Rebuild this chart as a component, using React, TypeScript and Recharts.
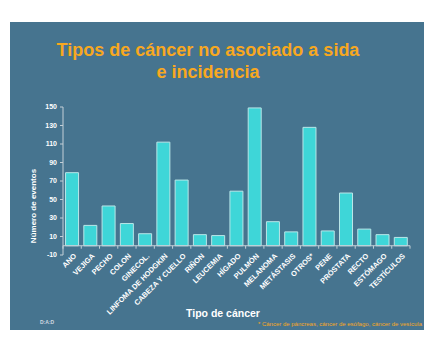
import { BarChart, Bar, XAxis, YAxis, ReferenceLine } from 'recharts';

const categories = [
  'ANO', 'VEJIGA', 'PECHO', 'COLON', 'GINECOL.', 'LINFOMA DE HODGKIN', 'CABEZA Y CUELLO',
  'RIÑON', 'LEUCEMIA', 'HÍGADO', 'PULMÓN', 'MELANOMA', 'METÁSTASIS', 'OTROS*', 'PENE',
  'PRÓSTATA', 'RECTO', 'ESTÓMAGO', 'TESTÍCULOS',
];
const eventos = [79, 22, 43, 24, 13, 112, 71, 12, 11, 59, 149, 26, 15, 128, 16, 57, 18, 12, 9];
const yTicks = [-10, 10, 30, 50, 70, 90, 110, 130, 150];

const data = categories.map((name, i) => ({ name, eventos: eventos[i] }));

const W = 434;
const H = 355;
const MARGIN = { top: 107, right: 24, bottom: 0, left: 13 };
const Y_W = 50;
const X_H = 100;
const PLOT_W = W - MARGIN.left - MARGIN.right - Y_W;
const BAND = PLOT_W / categories.length;

const FONT = '"Liberation Sans", Arial, sans-serif';
const BG = '#46748f';
const ORANGE = '#f8a81f';
const AXIS = '#c3cfd7';

function CatTick(props: any) {
  const { x, y, payload, index } = props;
  const zeroY = y - 9.3; // axis line sits on value 0, above the plot bottom
  const tx = x + 1;
  const ty = y - 2.2;
  return (
    <g>
      <line x1={x - BAND / 2} x2={x - BAND / 2} y1={zeroY} y2={zeroY + 3} stroke={AXIS} />
      {index === categories.length - 1 && (
        <line x1={x + BAND / 2} x2={x + BAND / 2} y1={zeroY} y2={zeroY + 3} stroke={AXIS} />
      )}
      <text
        x={tx}
        y={ty}
        dy="0.71em"
        textAnchor="end"
        transform={`rotate(-45, ${tx}, ${ty})`}
        fill="#ffffff"
        fontSize={7.4}
        fontWeight="bold"
        fontFamily={FONT}
      >
        {payload.value}
      </text>
    </g>
  );
}

export default function App() {
  return (
    <div style={{ position: 'absolute', left: 0, top: 0, width: W, height: H, background: '#ffffff', fontFamily: FONT }}>
      <div style={{ position: 'absolute', left: 10, top: 22, width: 414, height: 308, background: BG }} />

      <div
        style={{
          position: 'absolute', left: 0, top: 40, width: 416, textAlign: 'center',
          color: ORANGE, fontWeight: 'bold', fontSize: 18, lineHeight: '21.7px',
        }}
      >
        Tipos de cáncer no asociado a sida
        <br />
        e incidencia
      </div>

      <div
        style={{
          position: 'absolute', left: 34 - 50, top: 206 - 5, width: 100, height: 10,
          lineHeight: '10px', textAlign: 'center', transform: 'rotate(-90deg)',
          color: '#ffffff', fontWeight: 'bold', fontSize: 8, whiteSpace: 'nowrap',
        }}
      >
        Número de eventos
      </div>

      <div style={{ position: 'absolute' as const, left: 0, top: 0 }}>
        <BarChart width={W} height={H} data={data} margin={MARGIN} barCategoryGap="14%">
          <XAxis
            dataKey="name"
            interval={0}
            height={X_H}
            axisLine={false}
            tickLine={false}
            tickSize={0}
            tickMargin={0}
            tick={<CatTick />}
          />
          <YAxis
            width={Y_W}
            domain={[-10, 150]}
            ticks={yTicks}
            interval={0}
            allowDataOverflow
            axisLine={{ stroke: AXIS }}
            tickLine={{ stroke: AXIS }}
            tickSize={3}
            tickMargin={3}
            tick={{ fill: '#ffffff', fontSize: 7, fontWeight: 'bold', fontFamily: FONT }}
          />
          <Bar dataKey="eventos" fill="#3ed6d8" stroke="#b9e6e8" strokeWidth={1} isAnimationActive={false} />
          <ReferenceLine y={0} stroke={AXIS} strokeWidth={1} />
        </BarChart>
      </div>

      <div
        style={{
          position: 'absolute', left: 223 - 60, top: 307, width: 120, textAlign: 'center',
          color: '#ffffff', fontWeight: 'bold', fontSize: 10.5, lineHeight: '12px',
        }}
      >
        Tipo de cáncer
      </div>

      <div
        style={{
          position: 'absolute', left: 40, top: 319, color: '#d0d9e0',
          fontSize: 5, lineHeight: '6px', fontWeight: 'bold',
        }}
      >
        D:A:D
      </div>

      <div
        style={{
          position: 'absolute', right: W - 422, top: 321, color: ORANGE,
          fontSize: 6, lineHeight: '7px', whiteSpace: 'nowrap',
        }}
      >
        * Cáncer de páncreas, cáncer de esófago, cáncer de vesícula
      </div>
    </div>
  );
}
